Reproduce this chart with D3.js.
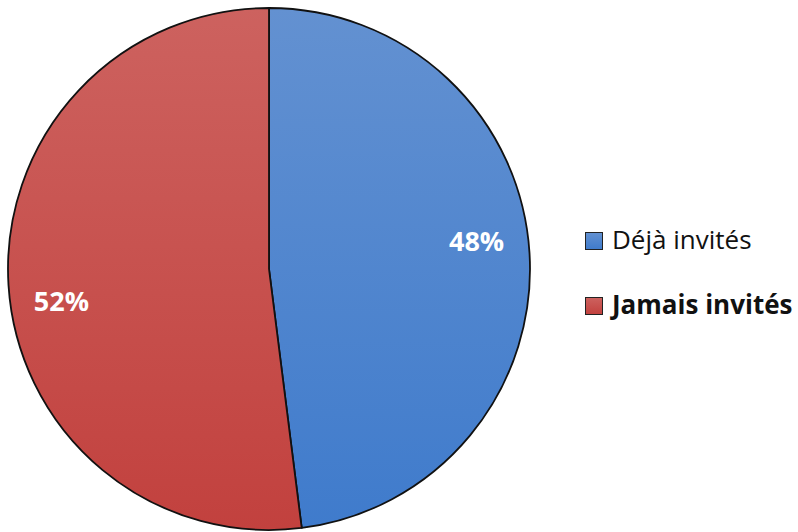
<!DOCTYPE html>
<html><head><meta charset="utf-8">
<script src="https://cdn.jsdelivr.net/npm/d3@7"></script>
<style>html,body{margin:0;padding:0;background:#fff;}svg{display:block;}</style>
</head><body>
<svg id="chart" width="798" height="532"></svg>
<script>
// Data
const categories = ["Déjà invités", "Jamais invités"];
const values = [48, 52];
const labels = ["48%", "52%"];

const colorsTop = ["#6391d1", "#cd625f"];
const colorsBottom = ["#3f7bcc", "#c2413e"];

const svg = d3.select("#chart");
const cx = 269, cy = 269, R = 261;

const defs = svg.append("defs");
categories.forEach((c, i) => {
  const g = defs.append("linearGradient")
    .attr("id", "grad" + i)
    .attr("gradientUnits", "userSpaceOnUse")
    .attr("x1", 0).attr("y1", -R).attr("x2", 0).attr("y2", R);
  g.append("stop").attr("offset", "0%").attr("stop-color", colorsTop[i]);
  g.append("stop").attr("offset", "100%").attr("stop-color", colorsBottom[i]);
  const lg = defs.append("linearGradient").attr("id", "lg" + i)
    .attr("x1", 0).attr("y1", 0).attr("x2", 0).attr("y2", 1);
  lg.append("stop").attr("offset", "0%").attr("stop-color", colorsTop[i]);
  lg.append("stop").attr("offset", "100%").attr("stop-color", colorsBottom[i]);
});

const pie = d3.pie().sort(null).value(d => d)(values);
const arc = d3.arc().innerRadius(0).outerRadius(R);
const labelArc = d3.arc().innerRadius(208).outerRadius(208);

const g = svg.append("g").attr("transform", `translate(${cx},${cy})`);
g.selectAll("path.slice").data(pie).join("path")
  .attr("class", "slice")
  .attr("d", arc)
  .attr("fill", (d, i) => `url(#grad${i})`)
  .attr("stroke", "#111")
  .attr("stroke-width", 1.8)
  .attr("stroke-linejoin", "round");

// Value labels
const labelDy = [-12, 22];
g.selectAll("text.val").data(pie).join("text")
  .attr("class", "val")
  .attr("x", d => labelArc.centroid(d)[0])
  .attr("y", (d, i) => labelArc.centroid(d)[1] + labelDy[i])
  .attr("text-anchor", "middle")
  .attr("dominant-baseline", "middle")
  .attr("fill", "#fff")
  .attr("font-family", "'Open Sans', sans-serif")
  .attr("font-weight", "bold")
  .attr("font-size", 27)
  .text((d, i) => labels[i]);

// Legend
const legend = svg.append("g").attr("transform", "translate(585,232)");
const rowStep = 65;
categories.forEach((c, i) => {
  const row = legend.append("g").attr("transform", `translate(0,${i * rowStep})`);
  row.append("rect")
    .attr("x", 0.5).attr("y", 0.5).attr("width", 17).attr("height", 17)
    .attr("fill", `url(#lg${i})`)
    .attr("stroke", "#222").attr("stroke-width", 1);
  row.append("text")
    .attr("x", 27).attr("y", 17)
    .attr("font-family", "'Open Sans', sans-serif")
    .attr("font-size", 26)
    .attr("font-weight", i === 1 ? "bold" : "normal")
    .attr("fill", "#111")
    .text(c);
});
</script>
</body></html>
